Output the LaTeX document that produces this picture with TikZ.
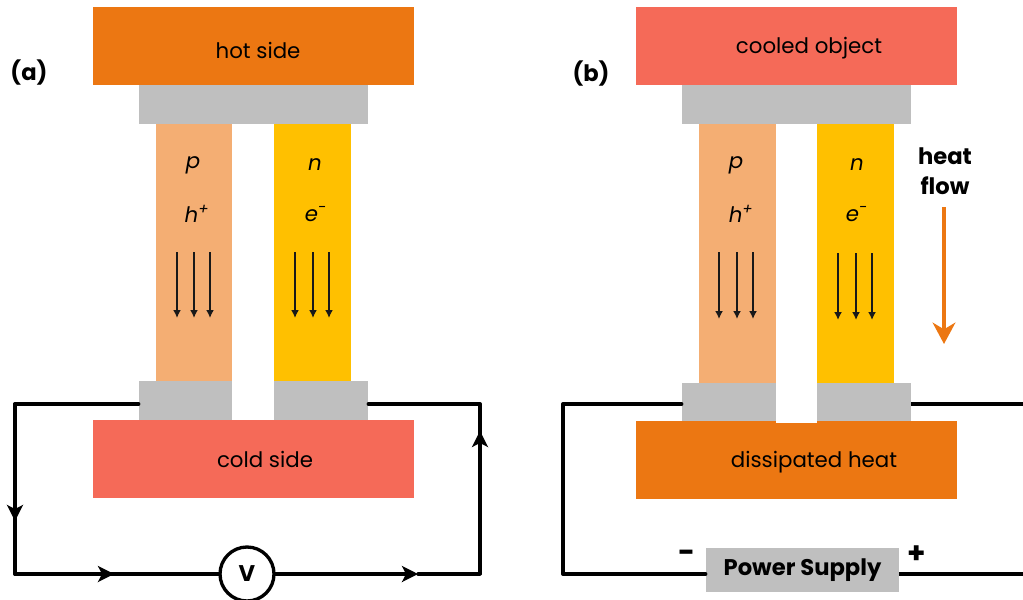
\documentclass[tikz,border=0pt]{standalone}
\usepackage{fontspec}
\setmainfont{Poppins}
\usetikzlibrary{arrows.meta}
\definecolor{hotorange}{HTML}{EC7712}
\definecolor{coldred}{HTML}{F56A58}
\definecolor{ptype}{HTML}{F4AE73}
\definecolor{ntype}{HTML}{FFC000}
\definecolor{contact}{HTML}{BFBFBF}
\begin{document}
\begin{tikzpicture}[x=0.75pt, y=-0.75pt,
    block/.style n args={3}{inner sep=0pt, fill=#3, minimum width=#1*0.75pt, minimum height=#2*0.75pt},
    txt/.style={inner sep=0pt, font=\fontsize{16}{18}\selectfont},
    bold/.style={inner sep=0pt, font=\fontsize{17}{22.5}\selectfont\bfseries, align=center},
    wire/.style={line width=2.5pt, line cap=round, line join=round},
    wirehead/.style={wire, -{Stealth[inset=3pt, length=12pt, width=12pt]}},
    carrier/.style={line width=1.4pt, black!90, -{Latex[length=6pt, width=6pt]}}]
    \useasboundingbox (0,0) rectangle (1023,599);

    % Panel (a)
    \node[bold] (labela) at (29,73) {(a)};
    \node[block={321}{78}{hotorange}] (hota) at (253.5,46) {};
    \node[block={229}{39}{contact}] (topa) at (253.5,104.5) {};
    \node[block={76}{257}{ptype}] (pa) at (194,252.5) {};
    \node[block={77}{257}{ntype}] (na) at (312.5,252.5) {};
    \node[block={93}{39}{contact}] (leftcona) at (185.5,400.5) {};
    \node[block={94}{39}{contact}] (rightcona) at (321,400.5) {};
    \node[block={321}{78}{coldred}] (colda) at (253.5,459) {};
    \node[txt] (hottxt) at (258,50) {hot side};
    \node[txt] (coldtxt) at (265,459) {cold side};
    \node[txt] (pa1) at (193,165) {\itshape p};
    \node[txt] (pa2) at (197,214) {\itshape h\textsuperscript{+}};
    \node[txt] (na1) at (315,165) {\itshape n};
    \node[txt] (na2) at (316,214) {\itshape e\textsuperscript{-}};
    \foreach \x in {177,194,210,295,313,329}
        \draw[carrier] (\x,252) -- (\x,318);

    % Circuit (a)
    \node[circle, draw, line width=2.5pt, fill=white, minimum size=54*0.75pt, inner sep=0pt,
        font=\fontsize{17}{18}\selectfont\bfseries] (volt) at (247,574) {V};
    \coordinate (ca1) at (15,404);
    \coordinate (ca2) at (15,574);
    \coordinate (ca3) at (480,574);
    \coordinate (ca4) at (480,404);
    \coordinate (ma1) at (15,521);
    \coordinate (ma2) at (114,574);
    \coordinate (ma3) at (418,574);
    \coordinate (ma4) at (480,431);
    \draw[wire] (leftcona.west |- ca1) -- (ca1) -- (ma1);
    \draw[wirehead] (ca1) -- (ma1);
    \draw[wire] (ma1) -- (ca2) -- (ma2);
    \draw[wirehead] (ca2) -- (ma2);
    \draw[wire] (ma2) -- (volt);
    \draw[wirehead] (volt) -- (ma3);
    \draw[wire] (ma3) -- (ca3) -- (ma4);
    \draw[wirehead] (ca3) -- (ma4);
    \draw[wire] (ma4) -- (ca4) -- (rightcona.east |- ca4);

    % Panel (b)
    \node[bold] (labelb) at (591,74) {(b)};
    \node[block={321}{78}{coldred}] (coolb) at (796.5,46) {};
    \node[block={229}{39}{contact}] (topb) at (796.5,104.5) {};
    \node[block={77}{259}{ptype}] (pb) at (737.5,253.5) {};
    \node[block={77}{259}{ntype}] (nb) at (855.5,253.5) {};
    \node[block={321}{78}{hotorange}] (hotb) at (796.5,460) {};
    \node[block={94}{38}{contact}] (leftconb) at (729,402) {};
    \node[block={94}{38}{contact}] (rightconb) at (864,402) {};
    \node[block={41}{2}{white}] (gapb) at (796.5,422) {};
    \node[txt] (cooltxt) at (809,48) {cooled object};
    \node[txt] (dissipatedtxt) at (814,462) {dissipated heat};
    \node[txt] (pb1) at (736,165) {\itshape p};
    \node[txt] (pb2) at (741,214) {\itshape h\textsuperscript{+}};
    \node[txt] (nb1) at (857,165) {\itshape n};
    \node[txt] (nb2) at (857,214) {\itshape e\textsuperscript{-}};
    \foreach \x in {719,737,753}
        \draw[carrier] (\x,252) -- (\x,319);
    \foreach \x in {838,856,872}
        \draw[carrier] (\x,253) -- (\x,320);
    \node[bold] (flowtxt) at (945,171) {heat\\flow};
    \coordinate (flowa) at (944,207);
    \coordinate (flowb) at (944,344);
    \draw[line width=3.4pt, hotorange, -{Stealth[inset=5pt, length=16pt, width=17pt]}] (flowa) -- (flowb);

    % Circuit (b)
    \node[block={193}{44}{contact}, font=\fontsize{17}{18}\selectfont\bfseries] (supply) at (802.5,570) {Power Supply};
    \node[bold, font=\fontsize{22}{22}\selectfont\bfseries] (minus) at (687,556) {-};
    \node[bold, font=\fontsize{22}{22}\selectfont\bfseries] (plus) at (917,555) {+};
    \coordinate (cb1) at (563,404);
    \coordinate (cb2) at (563,574);
    \coordinate (cb3) at (1023,574);
    \coordinate (cb4) at (1023,404);
    \draw[wire] (leftconb.west |- cb1) -- (cb1) -- (cb2) -- (supply.west |- cb2);
    \draw[wire, line cap=butt] (supply.east |- cb3) -- (cb3);
    \draw[wire, line cap=butt] (rightconb.east |- cb4) -- (cb4);
\end{tikzpicture}
\end{document}
